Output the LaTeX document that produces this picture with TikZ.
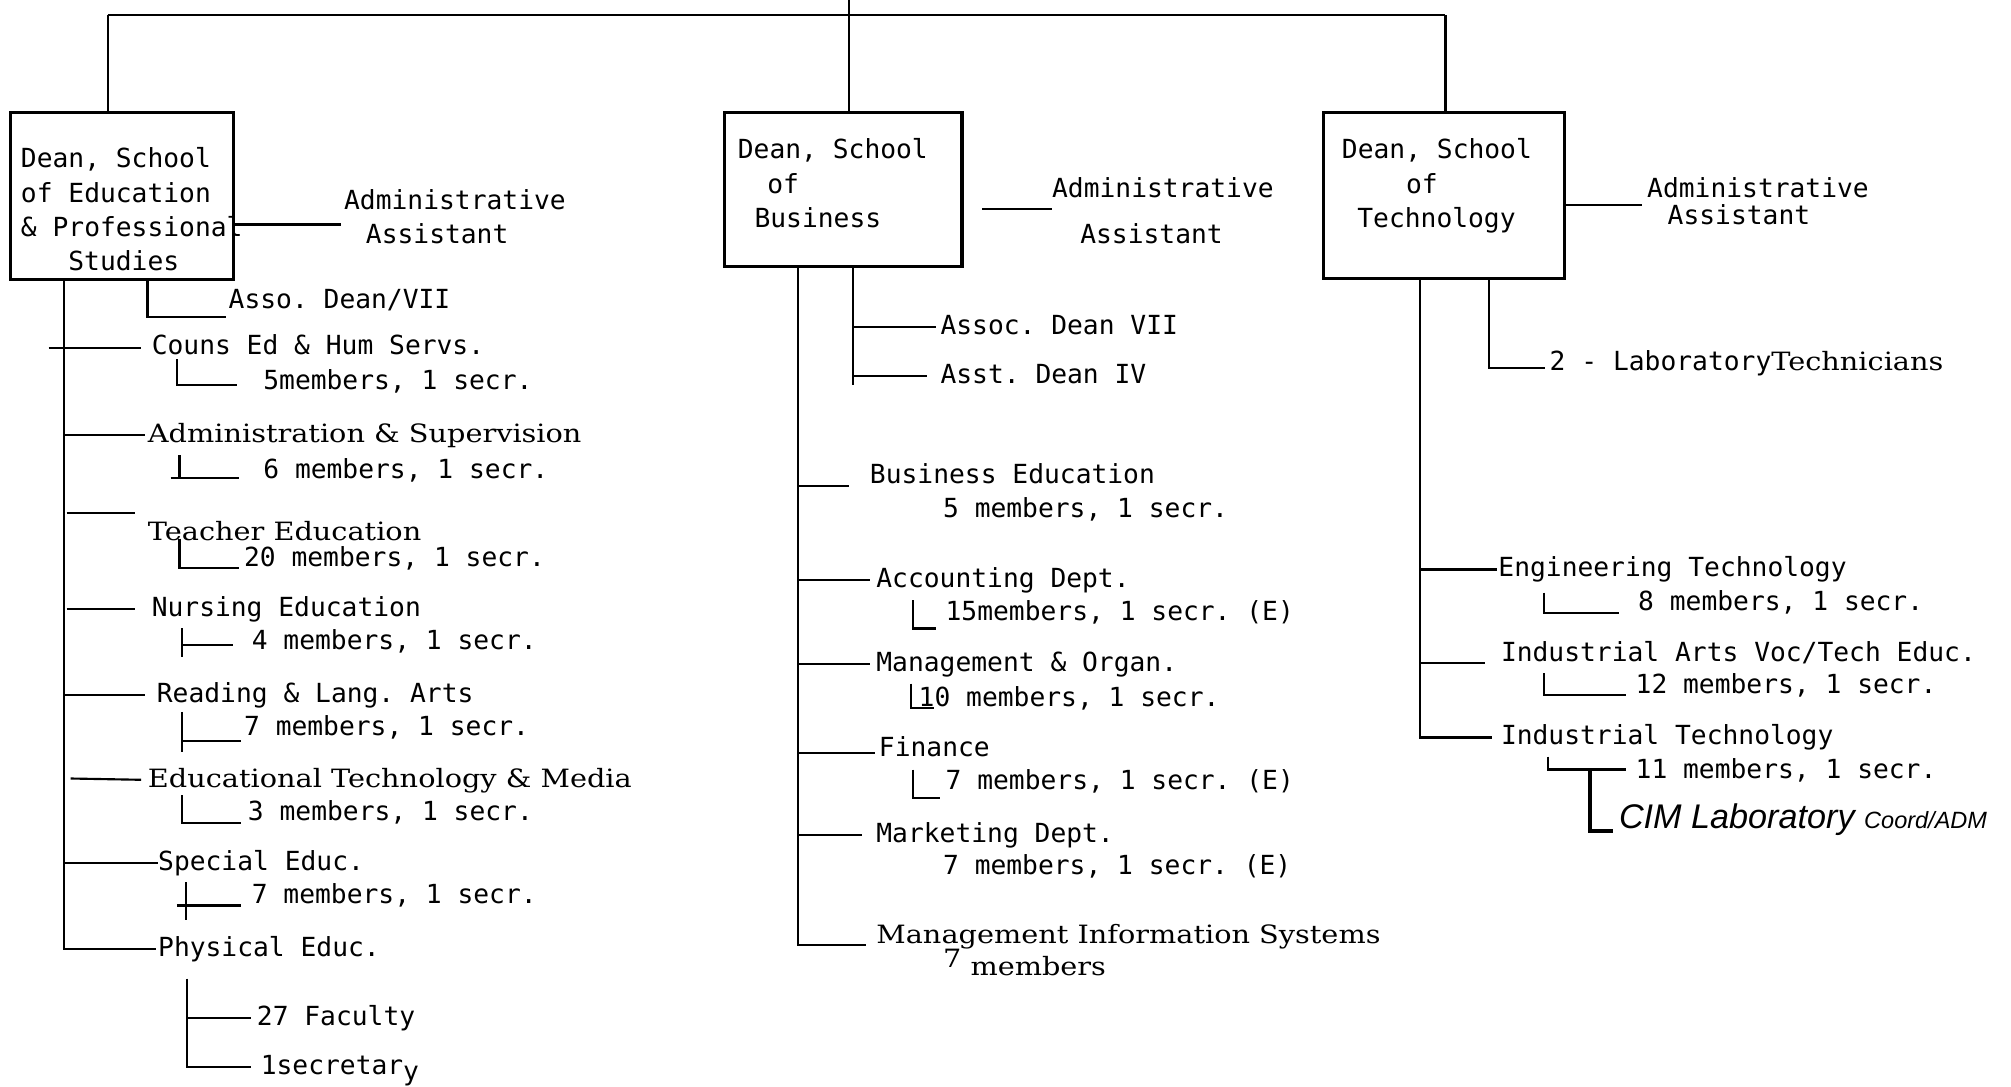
\documentclass[tikz,border=0pt]{standalone}
\usepackage{fontspec}
\setmainfont{DejaVu Sans Mono}
\newfontfamily\monoface{DejaVu Sans Mono}
\newfontfamily\seriface{DejaVu Serif}[FakeStretch=1.14]
\newfontfamily\handface{Liberation Sans}
\usetikzlibrary{calc}
\frenchspacing
\newcommand\myMono{\monoface\fontsize{12.3}{16}\selectfont}
\newcommand\mySerif{\seriface\fontsize{11.8}{16}\selectfont}
\newcommand\myHand{\handface\itshape\fontsize{16}{18}\selectfont}
\tikzset{
  lbl/.style={inner sep=0pt, anchor=west, font=\myMono, text height=1.5ex, text depth=.25ex},
  slbl/.style={lbl, font=\mySerif},
  hlbl/.style={lbl, font=\myHand},
  dbox/.style={draw, line width=1.5pt, inner sep=0pt},
  ln/.style={line width=1pt},
  thick ln/.style={line width=2pt},
}
\begin{document}
\frenchspacing
\begin{tikzpicture}[x=0.6pt,y=-0.6pt]
\useasboundingbox (0,0) rectangle (1568,847);
\fill[white] (0,0) rectangle (1568,847);

% ---------- dean boxes ----------
\node[dbox, minimum width=174*0.6pt, minimum height=130*0.6pt] (b1) at (95,153) {};
\node[dbox, minimum width=185*0.6pt, minimum height=120*0.6pt] (b2) at (657.5,148) {};
\node[dbox, minimum width=188*0.6pt, minimum height=129*0.6pt] (b3) at (1126,152.5) {};

\node[lbl] (b1l1) at (16,125) {Dean, School};
\node[lbl] (b1l2) at (16,152) {of Education};
\node[lbl] (b1l3) at (16,179) {\& Professional};
\node[lbl] (b1l4) at (53,205) {Studies};

\node[lbl] (b2l1) at (575,118) {Dean, School};
\node[lbl] (b2l2) at (598,145) {of};
\node[lbl] (b2l3) at (588,172) {Business};

\node[lbl] (b3l1) at (1046,118) {Dean, School};
\node[lbl] (b3l2) at (1096,145) {of};
\node[lbl] (b3l3) at (1058,172) {Technology};

% ---------- top structure ----------
\coordinate (tl) at (84,12);
\coordinate (tr) at (1127,12);
\coordinate (tc) at (662,0);
\draw[ln] (tl) -- (tr);
\draw[ln] (tl) -- (tl |- b1.north);
\draw[ln] (tr) -- (tr |- b3.north);
\draw[ln] (tc) -- (tc |- b2.north);

% ---------- administrative assistants ----------
\node[lbl] (a1a) at (268,158) {Administrative};
\node[lbl] (a1b) at (285,184) {Assistant};
\draw[ln] (b1.east |- 0,175) -- (266,175);

\node[lbl] (a2a) at (820,148) {Administrative};
\node[lbl] (a2b) at (842,184) {Assistant};
\draw[ln] (766,163) -- (a2a.west |- 0,163);

\node[lbl] (a3a) at (1284,148) {Administrative};
\node[lbl] (a3b) at (1300,169) {Assistant};
\draw[ln] (b3.east |- 0,160) -- (1280,160);

% ---------- School of Education ----------
\node[lbl] (asso) at (178,235) {Asso. Dean/VII};
\draw[ln] (b1.south -| 115,0) -- (115,247) -- (176,247);

\node[lbl] (couns) at (118,271) {Couns Ed \& Hum Servs.};
\node[lbl] (couns2) at (205,298) {5members, 1 secr.};
\node[slbl] (adsup) at (115,339) {Administration \& Supervision};
\node[lbl] (adsup2) at (205,367) {6 members, 1 secr.};
\node[slbl] (teach) at (115,416) {Teacher Education};
\node[lbl] (teach2) at (190,436) {20 members, 1 secr.};
\node[lbl] (nurs) at (118,475) {Nursing Education};
\node[lbl] (nurs2) at (196,501) {4 members, 1 secr.};
\node[lbl] (read) at (122,542) {Reading \& Lang. Arts};
\node[lbl] (read2) at (190,568) {7 members, 1 secr.};
\node[slbl] (edtech) at (115,608) {Educational Technology \& Media};
\node[lbl] (edtech2) at (193,634) {3 members, 1 secr.};
\node[lbl] (spec) at (123,673) {Special Educ.};
\node[lbl] (spec2) at (196,699) {7 members, 1 secr.};
\node[lbl] (phys) at (123,740) {Physical Educ.};
\node[lbl] (fac) at (200,794) {27 Faculty};
\node[lbl] (sec) at (203,832) {1secretar\raisebox{-3pt}{y}};

\coordinate (s1) at (50,0);
\coordinate (pv) at (146,0);
\draw[ln] (s1 |- b1.south) -- (s1 |- phys.west) -- ([xshift=-0.6pt]phys.west);
\draw[ln] (38,271) -- ([xshift=-4.8pt]couns.west);
\draw[ln] (s1 |- adsup.west) -- ([xshift=-1.2pt]adsup.west);
\draw[ln] (52,400) -- (105,400);
\draw[ln] (52,475) -- ([xshift=-7.8pt]nurs.west);
\draw[ln] (s1 |- read.west) -- ([xshift=-5.4pt]read.west);
\draw[ln] (55,607) -- ([xshift=-3pt]edtech.west);
\draw[ln] (s1 |- spec.west) -- (spec.west);

\draw[ln] (138,280) -- (138,300) -- (185,300);
\draw[ln] (140,355) -- (140,373);
\draw[ln] (133,373) -- (186,373);
\draw[ln] (140,420) -- (140,443) -- (186,443);
\draw[ln] (142,490) -- (142,512);
\draw[ln] (142,503) -- (182,503);
\draw[ln] (142,555) -- (142,586);
\draw[ln] (142,578) -- (188,578);
\draw[ln] (142,620) -- (142,642) -- (188,642);
\draw[ln] (145,688) -- (145,717);
\draw[ln] (138,706) -- (188,706);
\draw[ln] (146,763) -- (pv |- sec.west) -- ([xshift=-4.2pt]sec.west);
\draw[ln] (pv |- fac.west) -- ([xshift=-2.4pt]fac.west);

% ---------- School of Business ----------
\node[lbl] (assoc) at (733,255) {Assoc. Dean VII};
\node[lbl] (asst) at (733,293) {Asst. Dean IV};
\coordinate (s2b) at (665,0);
\draw[ln] (b2.south -| s2b) -- (665,300);
\draw[ln] (s2b |- assoc.west) -- ([xshift=-1.8pt]assoc.west);
\draw[ln] (s2b |- asst.west) -- ([xshift=-6pt]asst.west);

\node[lbl] (bused) at (678,371) {Business Education};
\node[lbl] (bused2) at (735,398) {5 members, 1 secr.};
\node[lbl] (acct) at (683,452) {Accounting Dept.};
\node[lbl] (acct2) at (737,478) {15members, 1 secr. (E)};
\node[lbl] (mgmt) at (683,518) {Management \& Organ.};
\node[lbl] (mgmt2) at (716,545) {10 members, 1 secr.};
\node[lbl] (fin) at (685,584) {Finance};
\node[lbl] (fin2) at (737,610) {7 members, 1 secr. (E)};
\node[lbl] (mkt) at (683,651) {Marketing Dept.};
\node[lbl] (mkt2) at (735,676) {7 members, 1 secr. (E)};
\node[slbl] (mis) at (683,730) {Management Information Systems};
\node[slbl] (mis2) at (735,755) {\raisebox{4pt}{7} members};

\coordinate (s2) at (622,0);
\draw[ln] (s2 |- b2.south) -- (622,737) -- (675,737);
\draw[ln] (622,379) -- (662,379);
\draw[ln] (s2 |- acct.west) -- ([xshift=-3pt]acct.west);
\draw[ln] (s2 |- mgmt.west) -- ([xshift=-3pt]mgmt.west);
\draw[ln] (622,587) -- (682,587);
\draw[ln] (s2 |- mkt.west) -- ([xshift=-6.6pt]mkt.west);

\draw[ln] (712,468) -- (712,490) -- (730,490);
\draw[ln] (710,533) -- (710,552) -- (728,552);
\draw[ln] (712,600) -- (712,622) -- (733,622);

% ---------- School of Technology ----------
\node[lbl] (lab) at (1208,283) {2 - Laboratory{\mySerif Technicians}};
\draw[ln] (b3.south -| 1161,0) -- (1161,287) -- (1205,287);

\node[lbl] (eng) at (1168,444) {Engineering Technology};
\node[lbl] (eng2) at (1277,470) {8 members, 1 secr.};
\node[lbl] (ia) at (1170,510) {Industrial Arts Voc/Tech Educ.};
\node[lbl] (ia2) at (1275,535) {12 members, 1 secr.};
\node[lbl] (it) at (1170,575) {Industrial Technology};
\node[lbl] (it2) at (1275,601) {11 members, 1 secr.};
\node[hlbl] (cim) at (1262,640) {CIM Laboratory {\fontsize{11}{12}\selectfont Coord/ADM}};

\coordinate (s3) at (1107,0);
\draw[ln] (s3 |- b3.south) -- (s3 |- it.west) -- ([xshift=-4.2pt]it.west);
\draw[ln] (s3 |- eng.west) -- ([xshift=-0.6pt]eng.west);
\draw[ln] (1107,517) -- (1158,517);

\draw[ln] (1204,462) -- (1204,478) -- (1262,478);
\draw[ln] (1204,525) -- (1204,542) -- (1268,542);
\draw[ln] (1207,590) -- (1207,600) -- (1268,600);
\draw[thick ln] (1240,600) -- (1240,648) -- (1258,648);
\end{tikzpicture}
\end{document}
